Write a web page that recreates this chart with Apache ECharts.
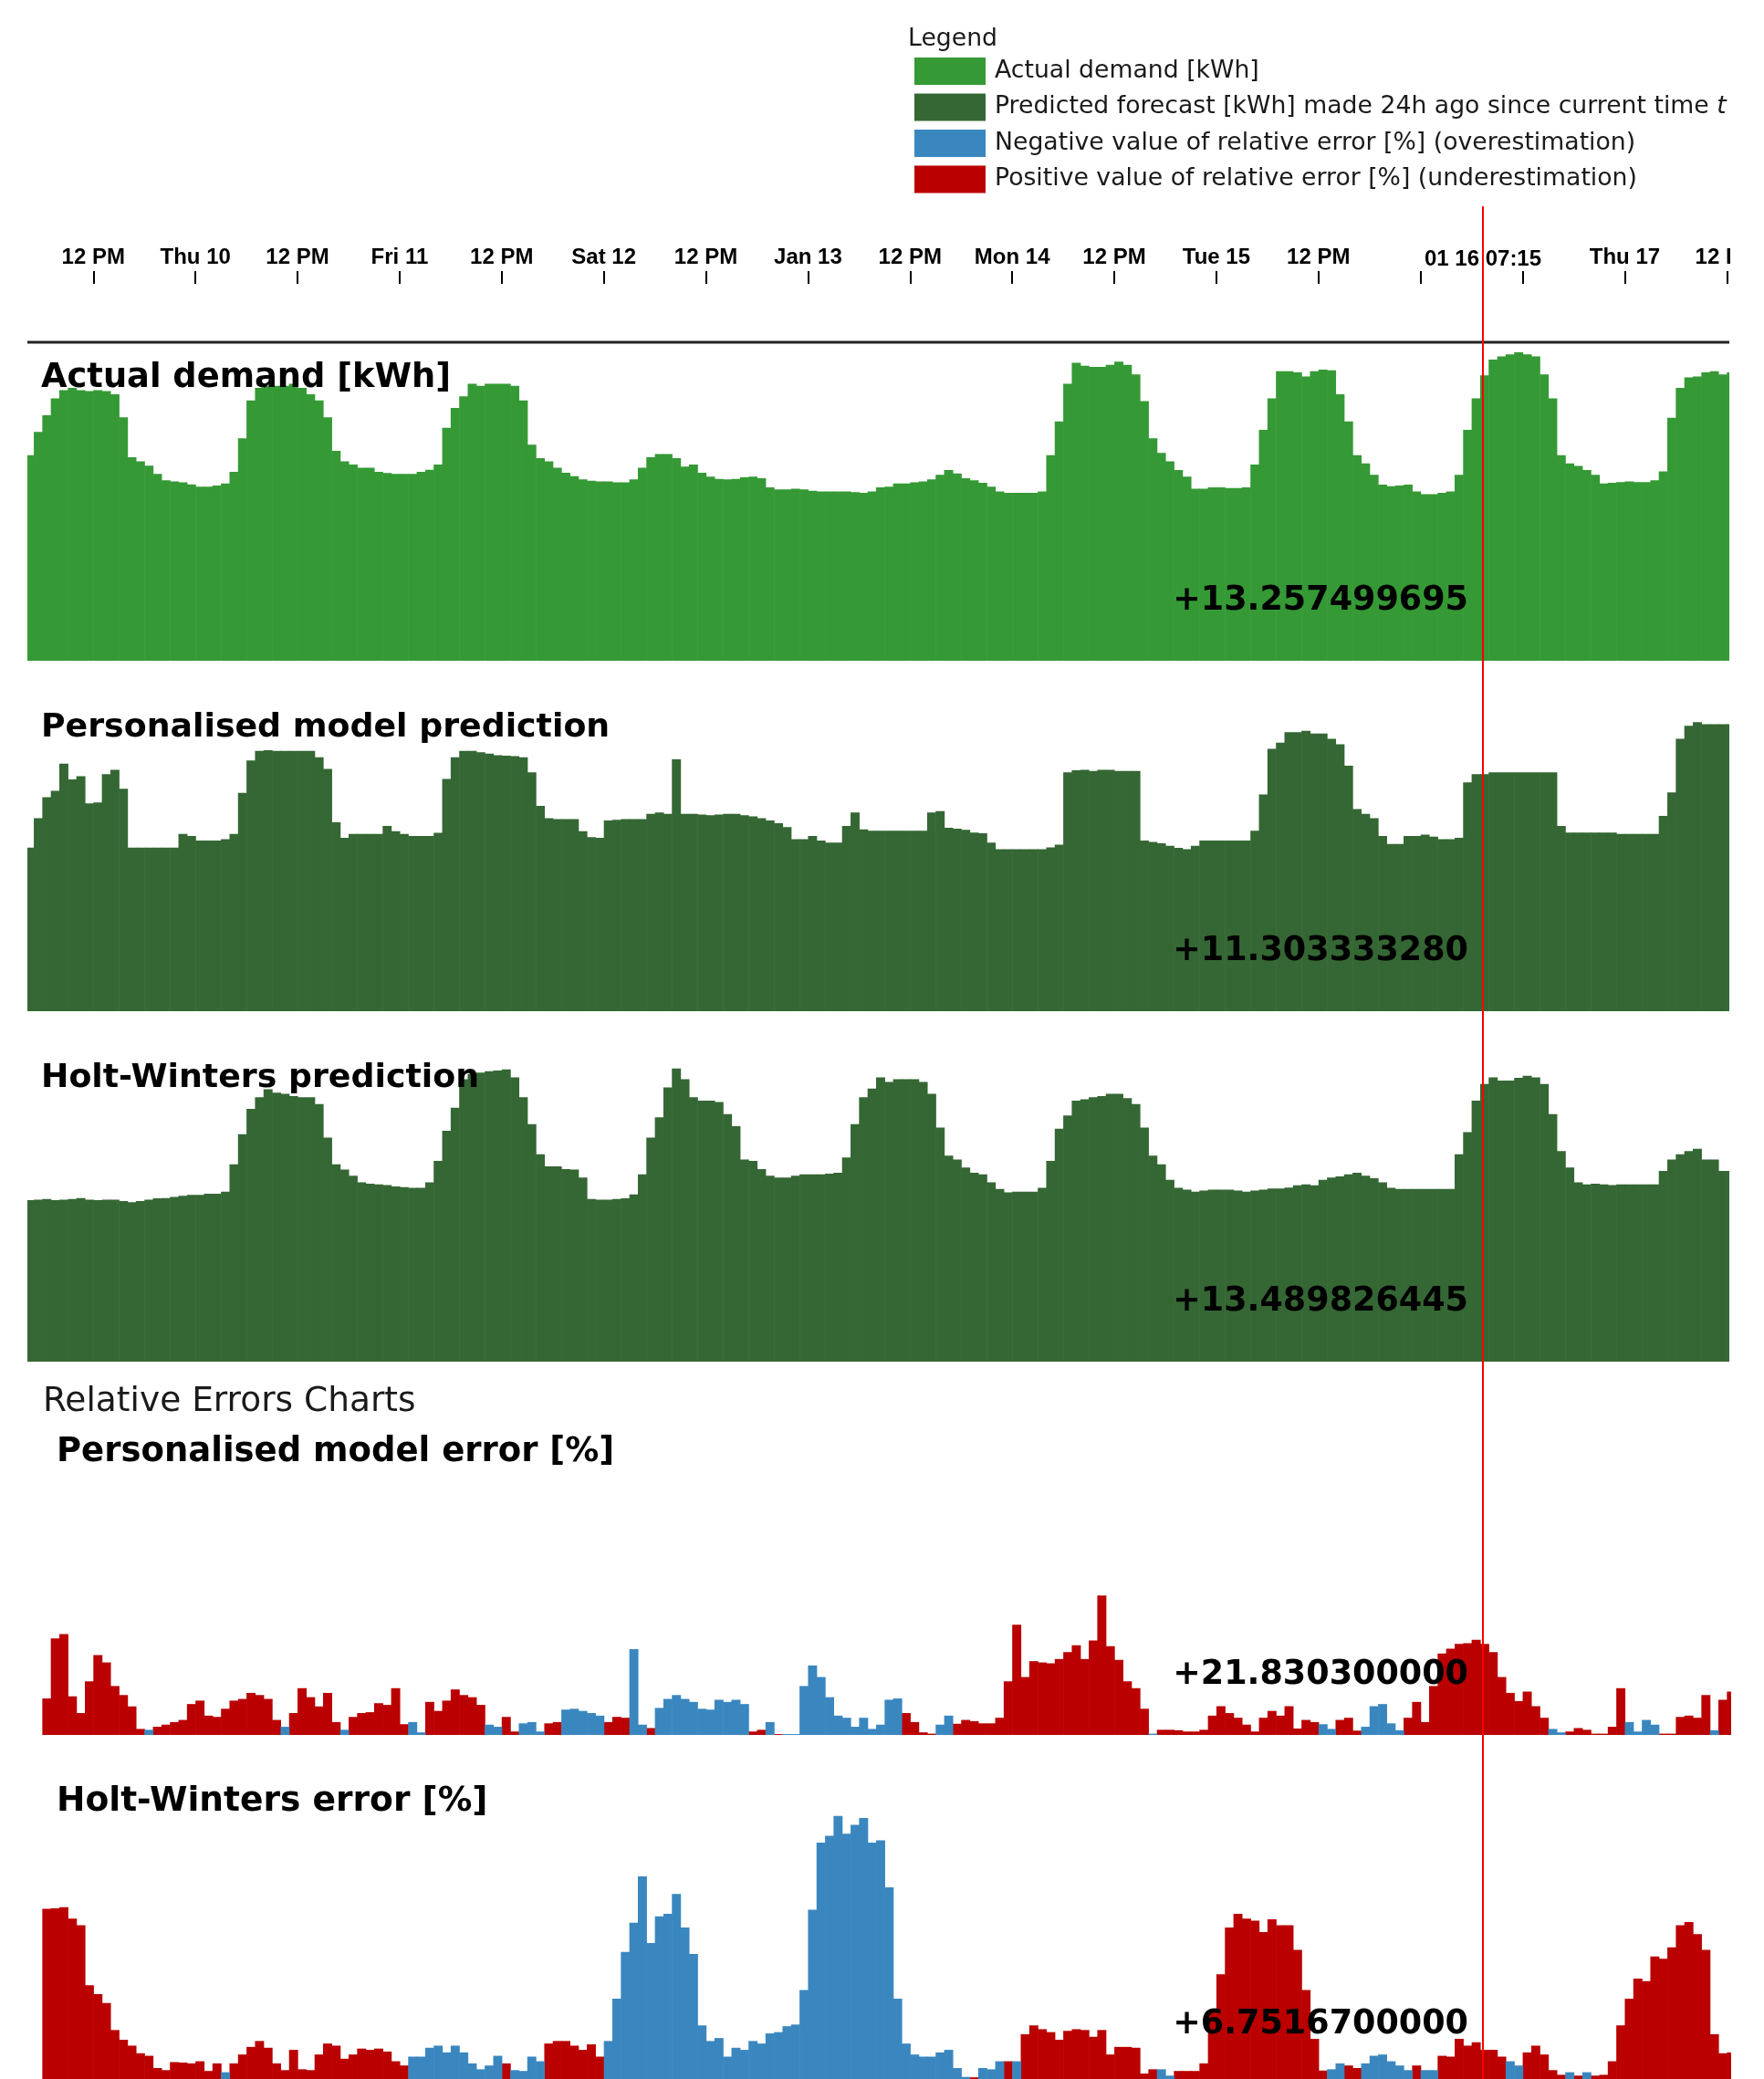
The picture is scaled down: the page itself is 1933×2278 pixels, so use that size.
<!DOCTYPE html>
<html><head><meta charset="utf-8">
<script src="https://cdn.jsdelivr.net/npm/echarts@6/dist/echarts.min.js"></script>
<style>html,body{margin:0;padding:0;background:#fff;}#c{width:1933px;height:2278px;}</style>
</head><body><div id="c"></div>
<script>
// ---- axis ticks (hours since Wed Jan 9, 00:00) ----
const tickHours  = [12, 24, 36, 48, 60, 72, 84, 96, 108, 120, 132, 144, 156, 168, 180, 192, 204];
const tickLabels = ["12 PM","Thu 10","12 PM","Fri 11","12 PM","Sat 12","12 PM","Jan 13","12 PM","Mon 14","12 PM","Tue 15","12 PM","Wed 16","12 PM","Thu 17","12 PM"];
const hiddenTickHours = [168, 180];
const focusHour = 175.33;
const focusLabel = "01 16 07:15";

// ---- hourly values, first value = hour 4 (Wed 04:00) ----
const demandStartHour = 4;
const actualDemand = [
 9.8,10.9,11.7,12.5,12.9,13.0,12.9,12.85,12.9,12.85,12.7,11.6,9.7,9.5,9.3,8.9,8.6,8.55,8.5,8.4,
 8.3,8.3,8.35,8.45,9.0,10.6,12.4,13.0,13.1,13.1,13.1,13.2,13.0,12.7,12.4,11.6,10.0,9.5,9.35,9.2,
 9.2,9.0,8.95,8.9,8.9,8.9,9.0,9.1,9.35,11.1,12.05,
 12.6,13.2,13.1,13.2,13.2,13.2,13.1,12.4,10.3,9.66,9.5,9.2,8.96,8.8,8.64,8.58,8.55,8.55,8.5,8.5,
 8.64,9.2,9.7,9.85,9.85,9.66,9.25,9.35,8.96,8.77,8.67,8.64,8.67,8.74,8.77,8.7,8.26,8.16,8.16,8.2,
 8.16,8.1,8.07,8.07,8.07,8.07,8.04,8.0,8.07,8.26,8.3,
 8.45,8.45,8.5,8.55,8.64,8.86,9.09,8.93,8.7,8.6,8.48,8.3,8.07,8.0,8.0,8.0,8.0,8.07,9.8,11.4,
 13.2,14.2,14.06,14.0,14.0,14.1,14.25,14.1,13.65,12.37,10.6,9.9,9.5,9.09,8.77,8.2,8.2,8.26,8.26,8.23,
 8.23,8.26,9.35,11.0,12.5,13.8,13.8,13.74,13.55,13.8,
 13.87,13.84,12.7,11.4,9.8,9.4,8.86,8.39,8.32,8.35,8.39,8.07,7.94,7.94,8.0,8.07,8.86,11.0,12.5,13.6,
 14.35,14.5,14.6,14.7,14.6,14.5,13.65,12.5,9.8,9.4,9.28,9.09,8.86,8.45,8.48,8.51,8.55,8.51,8.51,8.6,
 9.02,11.58,13.0,13.5,13.55,13.74,13.8,13.65,13.74
];
const personalisedPrediction = [
 7.8,9.2,10.2,10.5,11.8,11.05,11.2,9.9,9.95,11.3,11.5,10.6,7.8,7.8,7.8,7.8,7.8,7.8,8.45,8.35,
 8.13,8.13,8.13,8.2,8.45,10.4,11.95,12.4,12.44,12.4,12.4,12.4,12.4,12.4,12.1,11.55,9.0,8.26,8.45,8.45,
 8.45,8.45,8.83,8.58,8.45,8.35,8.35,8.35,8.5,11.07,12.1,
 12.4,12.4,12.34,12.28,12.2,12.18,12.15,12.1,11.38,9.79,9.2,9.15,9.15,9.15,8.58,8.3,8.26,9.09,9.12,9.15,
 9.15,9.15,9.4,9.47,9.4,12.0,9.4,9.4,9.37,9.34,9.37,9.4,9.4,9.34,9.28,9.2,9.09,8.96,8.77,8.2,
 8.2,8.35,8.13,8.04,8.04,8.83,9.47,8.67,8.6,8.6,8.6,
 8.6,8.6,8.6,8.6,9.47,9.53,8.74,8.7,8.64,8.51,8.48,8.04,7.72,7.72,7.72,7.72,7.72,7.72,7.81,7.94,
 11.38,11.48,11.5,11.45,11.5,11.5,11.45,11.45,11.45,8.13,8.07,8.0,7.88,7.78,7.72,7.88,8.13,8.13,8.13,8.13,
 8.13,8.13,8.6,10.33,12.5,12.8,13.3,13.3,13.36,13.23,
 13.23,12.98,12.72,11.7,9.63,9.4,9.2,8.35,7.97,7.97,8.35,8.35,8.42,8.32,8.2,8.2,8.26,10.9,11.3,11.3,
 11.38,11.38,11.38,11.38,11.38,11.38,11.38,11.38,8.83,8.51,8.51,8.51,8.51,8.51,8.51,8.45,8.45,8.45,8.45,8.45,
 9.31,10.43,12.98,13.6,13.78,13.68,13.68,13.68,13.68
];
const holtWintersPrediction = [
 7.7,7.72,7.75,7.7,7.72,7.75,7.8,7.72,7.7,7.72,7.72,7.65,7.6,7.65,7.72,7.78,7.8,7.85,7.9,7.95,
 7.95,8.0,8.0,8.1,9.4,10.84,12.05,12.6,12.98,12.82,12.76,12.66,12.6,12.6,12.28,10.68,9.4,9.15,8.86,8.55,
 8.48,8.45,8.42,8.35,8.32,8.29,8.29,8.55,9.57,11.0,12.1,
 13.46,13.71,13.78,13.84,13.87,13.93,13.55,12.6,11.32,9.88,9.31,9.31,9.18,9.15,8.77,7.75,7.72,7.72,7.75,7.78,
 7.97,8.93,10.68,11.64,13.07,13.97,13.46,12.6,12.44,12.44,12.37,11.8,11.22,9.63,9.57,9.18,8.86,8.77,8.77,8.86,
 8.93,8.93,8.93,8.96,9.0,9.73,11.32,12.6,13.01,13.55,13.33,
 13.46,13.46,13.46,13.33,12.76,11.16,9.82,9.63,9.25,9.0,8.93,8.55,8.23,8.07,8.1,8.1,8.1,8.29,9.57,11.1,
 11.73,12.44,12.5,12.6,12.66,12.76,12.76,12.56,12.28,11.16,9.82,9.4,8.67,8.29,8.2,8.1,8.15,8.2,8.2,8.2,
 8.15,8.1,8.15,8.2,8.25,8.25,8.3,8.4,8.45,8.4,
 8.67,8.77,8.83,8.93,9.0,8.86,8.74,8.55,8.29,8.23,8.23,8.23,8.23,8.23,8.23,8.23,9.88,10.94,12.44,13.23,
 13.55,13.39,13.39,13.52,13.62,13.55,13.23,11.8,10.04,9.25,8.55,8.45,8.48,8.45,8.42,8.45,8.45,8.45,8.45,8.45,
 9.09,9.63,9.88,10.04,10.14,9.63,9.63,9.09,9.09
];
// ---- relative errors [%], first value = hour 6 ----
const errorStartHour = 6;
const personalisedError = [
 8.5,22.5,23.5,9,5.1,12.5,18.6,16.9,11.4,9.3,6.65,1.4,-1.2,1.9,2.4,3.0,3.5,7.2,8.0,4.5,
 4.2,6.1,8.0,8.4,9.8,9.3,8.4,3.5,-1.9,5.1,10.9,8.8,6.65,9.8,3.0,-1.2,4.2,5.1,5.3,7.4,
 7.0,10.9,2.5,-3.0,-0.6,7.7,5.6,8.0,10.6,
 9.3,8.8,7.0,-2.4,-1.9,4.2,0.8,-2.7,-3.0,-0.8,2.7,3.0,-5.9,-6.1,-5.6,-5.1,-4.5,3.0,4.2,4.0,
 -20,-2.4,1.6,-6.3,-8.4,-9.3,-8.4,-7.7,-6.1,-5.9,-8.2,-7.7,-8.2,-7.2,0.8,1.2,-3.0,0.2,-0.2,-0.2,
 -11.4,-16.2,-13.5,-8.8,-4.5,-4.0,-1.9,-4.0,-1.4,-2.4,-8.2,
 -8.5,5.1,3.0,0.6,0.3,-2.4,-4.5,2.6,3.5,3.2,2.7,2.7,4.0,12.5,25.7,13.5,17.2,16.9,16.7,17.7,
 19.3,20.9,17.7,22.0,32.5,20.7,17.5,12.5,10.9,6.1,-0.3,1.2,1.2,1.1,0.8,0.8,1.2,4.5,6.7,5.1,
 4.0,2.4,0.8,4.0,5.6,4.5,6.7,1.5,3.5,3.0,
 -2.5,-1.4,3.5,4.0,1.0,-1.9,-6.7,-7.2,-2.7,-1.1,4.0,7.7,3.0,11.4,19.0,20.1,21.2,21.4,22.2,21.2,
 19.3,13.5,9.8,7.9,10.1,6.7,4.0,-1.4,-0.6,0.8,1.6,1.2,0.3,0.3,1.9,10.9,-3.0,-0.8,-3.5,-2.4,
 0.3,0.3,4.2,4.5,4.0,9.3,-1.1,8.2,10.1
];
const holtWintersError = [
 40.3,40.4,40.7,38.0,36.4,22.2,20.1,18.0,11.6,9.3,7.9,6.1,5.5,2.6,2.1,4.0,3.9,3.7,4.2,1.9,
 3.7,-1.6,3.7,5.8,7.6,9.0,7.4,3.7,2.1,6.9,2.3,2.1,5.8,8.4,7.9,4.8,5.8,7.2,6.9,7.2,
 6.5,4.2,3.2,-5.3,-5.3,-7.4,-7.9,-6.3,-7.9,
 -6.3,-3.7,-2.3,-3.2,-5.5,3.7,-2.1,-1.9,-5.3,-4.2,8.4,9.0,9.0,7.9,6.9,8.2,5.3,-9.0,-19.0,-30.1,
 -37.0,-48.0,-32.2,-38.5,-39.1,-43.8,-35.9,-29.6,-12.7,-9.0,-9.7,-5.3,-7.4,-6.9,-9.0,-8.4,-10.8,-11.1,-12.5,-12.9,
 -21.1,-40.1,-56.0,-57.6,-62.3,-58.1,-60.2,-61.8,-56.0,-56.5,-45.4,
 -19.0,-8.4,-5.8,-5.3,-5.3,-6.3,-6.9,-2.6,-0.5,0.4,-2.6,-2.3,-4.2,4.2,-4.2,10.6,12.7,11.8,11.1,9.3,
 11.4,11.8,11.6,10.0,11.6,5.8,7.6,7.6,7.4,1.3,2.3,-2.3,-0.8,1.9,1.9,1.9,3.7,15.8,24.8,35.9,
 39.1,38.0,37.5,34.8,37.8,36.4,36.4,30.6,21.1,9.5,
 2.0,-2.3,-3.7,3.2,2.6,-3.7,-5.5,-5.8,-4.2,-3.2,-2.1,3.2,-2.1,-2.1,5.5,5.3,9.5,7.9,8.7,6.9,
 6.9,5.3,-4.2,-3.2,6.3,7.9,5.8,2.1,1.0,-1.6,0.8,-1.6,0.8,1.0,4.2,12.7,19.0,23.8,23.2,29.0,
 28.5,31.2,36.4,37.2,34.3,30.6,10.6,6.1,6.3
];
const panelTitles = ["Actual demand [kWh]","Personalised model prediction","Holt-Winters prediction","Personalised model error [%]","Holt-Winters error [%]"];
const readouts = ["+13.257499695","+11.303333280","+13.489826445","+21.830300000","+6.7516700000"];
const legendNames = ["Actual demand [kWh]","Predicted forecast [kWh] made 24h ago since current time t","Negative value of relative error [%] (overestimation)","Positive value of relative error [%] (underestimation)"];

const C_ACT = '#359a35', C_PRED = '#356734', C_NEG = '#3a87c0', C_POS = '#ba0000';
const FONT = 'DejaVu Sans';
const viewA = [4.245, 204.29], viewE = [5.961, 204.5];

const chart = echarts.init(document.getElementById('c'), null, {renderer:'canvas'});

const hourly = (arr, start) => arr.map((v, i) => [start + i + 0.5, v]);
const pos = arr => arr.map((v, i) => [errorStartHour + i + 0.5, v > 0 ? v : 0]);
const neg = arr => arr.map((v, i) => [errorStartHour + i + 0.5, v < 0 ? -v : 0]);

const grids = [
  {left:30, width:1865, top:297, height:14},
  {left:30, width:1865, top:340, height:384},
  {left:30, width:1865, top:724, height:384},
  {left:30, width:1865, top:1108, height:384},
  {left:46, width:1851, top:1517, height:384},
  {left:46, width:1851, top:1900, height:384}
];
const xAxes = grids.map((g, i) => {
  const v = i >= 4 ? viewE : viewA;
  if (i === 0) return {
    gridIndex:0, type:'value', position:'top', min:v[0], max:v[1],
    axisLine:{show:false, onZero:false}, splitLine:{show:false},
    axisTick:{show:true, inside:true, length:14, lineStyle:{color:'#000', width:2}, customValues: tickHours},
    axisLabel:{show:true, margin:3, fontFamily:'Liberation Sans', fontWeight:'bold', fontSize:24, color:'#000',
      customValues: tickHours.filter(h => hiddenTickHours.indexOf(h) < 0),
      formatter: val => tickLabels[tickHours.indexOf(Math.round(val))] }
  };
  return {gridIndex:i, type:'value', min:v[0], max:v[1], show:false};
});
const yAxes = grids.map((g, i) => ({gridIndex:i, type:'value', min:0, max: i === 0 ? 1 : (i >= 4 ? 81.7 : 16.7), show:false}));

// one filled column per hourly value, clipped to its panel
const columns = (name, gi, data, color) => ({
  name, type:'custom', xAxisIndex:gi, yAxisIndex:gi, data, silent:true, animation:false,
  itemStyle:{color}, encode:{x:0, y:1},
  renderItem: (params, api) => {
    const x = api.value(0), v = api.value(1);
    if (!(v > 0)) return null;
    const p0 = api.coord([x - 0.5, v]);
    const p1 = api.coord([x + 0.5, 0]);
    const cs = params.coordSys;
    const r = echarts.graphic.clipRectByRect(
      {x:p0[0], y:p0[1], width:p1[0] - p0[0] + 0.6, height:p1[1] - p0[1]},
      {x:cs.x, y:cs.y, width:cs.width, height:cs.height});
    return r ? {type:'rect', shape:r, style:{fill:color}} : null;
  }
});

const series = [
  columns(legendNames[0], 1, hourly(actualDemand, demandStartHour), C_ACT),
  columns(legendNames[1], 2, hourly(personalisedPrediction, demandStartHour), C_PRED),
  columns(legendNames[1], 3, hourly(holtWintersPrediction, demandStartHour), C_PRED),
  columns(legendNames[3], 4, pos(personalisedError), C_POS),
  columns(legendNames[2], 4, neg(personalisedError), C_NEG),
  columns(legendNames[3], 5, pos(holtWintersError), C_POS),
  columns(legendNames[2], 5, neg(holtWintersError), C_NEG)
];

chart.setOption({
  animation:false,
  backgroundColor:'#fff',
  grid: grids,
  xAxis: xAxes,
  yAxis: yAxes,
  legend: {
    orient:'vertical', left:997, top:58, itemWidth:78, itemHeight:30, itemGap:9.5,
    icon:'rect', selectedMode:false,
    data: legendNames.map((n, i) => ({name:n, itemStyle:{color:[C_ACT, C_PRED, C_NEG, C_POS][i]}})),
    textStyle:{fontFamily:FONT, fontSize:26.7, color:'#1a1a1a', padding:[0,0,0,5],
      rich:{n:{fontFamily:FONT, fontSize:26.7, color:'#1a1a1a'}, it:{fontFamily:FONT, fontSize:26.7, fontStyle:'italic', color:'#1a1a1a'}}},
    formatter: name => name === legendNames[1] ? '{n|' + name.slice(0, -1) + '}{it|t}' : name
  },
  series
});

const fx = chart.convertToPixel({xAxisIndex:1}, focusHour);
const bold = s => 'bold ' + s + 'px "' + FONT + '"';
const txt = (text, x, y, font, align, fill) => ({type:'text', z:50, style:{text, x, y, font, align: align || 'left', verticalAlign:'middle', fill: fill || '#000'}});
const graphics = [
  txt('Legend', 995, 43.5, '26.7px "' + FONT + '"', 'left', '#1a1a1a'),
  {type:'line', z:40, shape:{x1:30, y1:375, x2:1895, y2:375}, style:{stroke:'#222', lineWidth:3}},
  {type:'rect', z:45, shape:{x:1896, y:262, width:40, height:36}, style:{fill:'#fff'}},
  txt(focusLabel, fx, 284, 'bold 24px "Liberation Sans"', 'center', '#000'),
  txt(panelTitles[0], 45, 414, bold(36.8)),
  txt(panelTitles[1], 45, 798, bold(36.3)),
  txt(panelTitles[2], 45, 1182, bold(36.3)),
  txt('Relative Errors Charts', 47, 1536.5, '37.5px "' + FONT + '"', 'left', '#1a1a1a'),
  txt(panelTitles[3], 62, 1591.5, bold(37)),
  txt(panelTitles[4], 62, 1974.5, bold(37.6)),
  txt(readouts[0], fx - 16, 658.5, bold(36.5), 'right'),
  txt(readouts[1], fx - 16, 1042.5, bold(36.5), 'right'),
  txt(readouts[2], fx - 16, 1426.5, bold(36.5), 'right'),
  txt(readouts[3], fx - 16, 1835.5, bold(36.5), 'right'),
  txt(readouts[4], fx - 16, 2218.5, bold(36.5), 'right'),
  {type:'line', z:60, shape:{x1:fx, y1:226, x2:fx, y2:2278}, style:{stroke:'#ff0000', lineWidth:2}}
];
chart.setOption({graphic: graphics});
</script></body></html>
